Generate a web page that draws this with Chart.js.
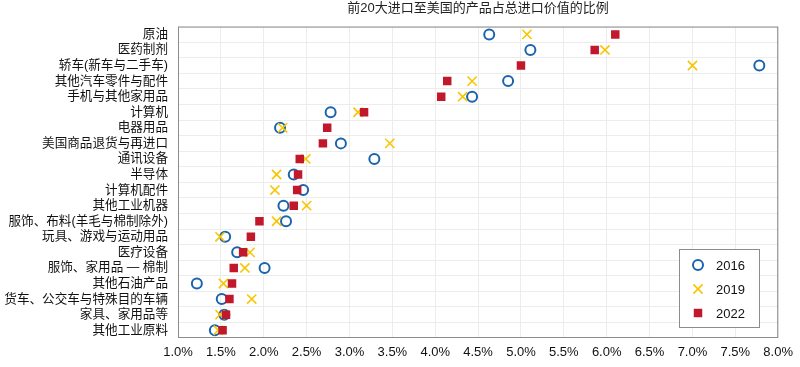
<!DOCTYPE html>
<html>
<head>
<meta charset="utf-8">
<script src="https://cdn.jsdelivr.net/npm/chart.js@4/dist/chart.umd.min.js"></script>
<style>
  html, body { margin: 0; padding: 0; background: #fff; }
  #wrap { width: 800px; height: 367px; }
</style>
</head>
<body>
<div id="wrap"><canvas id="myChart"></canvas></div>
<script>
const categories = [
  "原油", "医药制剂", "轿车(新车与二手车)", "其他汽车零件与配件", "手机与其他家用品",
  "计算机", "电器用品", "美国商品退货与再进口", "通讯设备", "半导体",
  "计算机配件", "其他工业机器", "服饰、布料(羊毛与棉制除外)", "玩具、游戏与运动用品", "医疗设备",
  "服饰、家用品 — 棉制", "其他石油产品", "货车、公交车与特殊目的车辆", "家具、家用品等", "其他工业原料"
];
const share2016 = [4.63, 5.11, 7.78, 4.85, 4.43, 2.78, 2.19, 2.90, 3.29, 2.35,
                   2.46, 2.23, 2.26, 1.55, 1.69, 2.01, 1.22, 1.51, 1.54, 1.43];
const share2019 = [5.07, 5.98, 7.00, 4.43, 4.32, 3.10, 2.22, 3.47, 2.49, 2.15,
                   2.13, 2.50, 2.15, 1.49, 1.84, 1.78, 1.53, 1.86, 1.49, 1.47];
const share2022 = [6.10, 5.86, 5.00, 4.14, 4.07, 3.17, 2.74, 2.69, 2.42, 2.40,
                   2.39, 2.35, 1.95, 1.85, 1.76, 1.65, 1.63, 1.60, 1.56, 1.52];
const years = ["2016", "2019", "2022"];
const xMin = 1, xMax = 8, xStep = 0.5;

const font = "'Liberation Sans', 'Noto Sans CJK SC', sans-serif";

// frame round the plot + legend box in the lower right corner
const boxLegend = {
  id: "boxLegend",
  afterDraw(chart) {
    const ctx = chart.ctx;
    const a = chart.chartArea;
    ctx.save();
    ctx.strokeStyle = "#8c8c8c";
    ctx.lineWidth = 1;
    ctx.strokeRect(a.left + 0.5, a.top + 0.5, a.width - 1, a.height - 1);

    const w = 80, h = 78;
    const x0 = Math.round(a.right - 19 - w), y0 = Math.round(a.bottom - 11 - h);
    ctx.fillStyle = "#fff";
    ctx.fillRect(x0, y0, w, h);
    ctx.strokeStyle = "#8c8c8c";
    ctx.strokeRect(x0 + 0.5, y0 + 0.5, w, h);

    chart.data.datasets.forEach((ds, i) => {
      const cy = y0 + 16 + i * 24;
      ctx.strokeStyle = ds.pointBorderColor;
      ctx.fillStyle = ds.pointBackgroundColor;
      ctx.lineWidth = ds.pointBorderWidth;
      Chart.helpers.drawPoint(ctx, {
        pointStyle: ds.pointStyle,
        radius: ds.pointRadius,
        borderWidth: ds.pointBorderWidth,
        rotation: 0
      }, x0 + 19, cy);
      ctx.fillStyle = "#111";
      ctx.font = "13px " + font;
      ctx.textBaseline = "middle";
      ctx.textAlign = "left";
      ctx.fillText(ds.label, x0 + 37, cy + 1);
    });
    ctx.restore();
  }
};

const ctx = document.getElementById("myChart").getContext("2d");

new Chart(ctx, {
  type: "line",
  data: {
    labels: categories,
    datasets: [
      {
        label: years[0],
        data: share2016,
        showLine: false,
        pointStyle: "circle",
        pointRadius: 5,
        pointHoverRadius: 5,
        pointBorderWidth: 2,
        pointBorderColor: "#1a64ad",
        pointBackgroundColor: "rgba(255,255,255,0)",
        order: 3
      },
      {
        label: years[1],
        data: share2019,
        showLine: false,
        pointStyle: "crossRot",
        pointRadius: 6.5,
        pointHoverRadius: 6.5,
        pointBorderWidth: 1.6,
        pointBorderColor: "#f7c600",
        pointBackgroundColor: "#f7c600",
        order: 2
      },
      {
        label: years[2],
        data: share2022,
        showLine: false,
        pointStyle: "rect",
        pointRadius: 6,
        pointHoverRadius: 6,
        pointBorderWidth: 0,
        pointBorderColor: "#c1182b",
        pointBackgroundColor: "#c1182b",
        order: 1
      }
    ]
  },
  options: {
    indexAxis: "y",
    responsive: true,
    maintainAspectRatio: false,
    animation: false,
    layout: { padding: { top: 1, right: 20, left: 0, bottom: 0 } },
    plugins: {
      legend: { display: false },
      tooltip: { enabled: false },
      title: {
        display: true,
        text: "前20大进口至美国的产品占总进口价值的比例",
        fullSize: false,
        color: "#222",
        font: { family: font, size: 13, weight: "normal", lineHeight: 1.2 },
        padding: { top: 0, bottom: 10 }
      }
    },
    scales: {
      x: {
        type: "linear",
        min: xMin,
        max: xMax,
        ticks: {
          stepSize: xStep,
          color: "#111",
          padding: 7,
          font: { family: font, size: 13 },
          callback: v => v.toFixed(1) + "%"
        },
        grid: { color: "#ececec", drawTicks: false },
        border: { display: false },
        afterFit: s => { s.height = 29; }
      },
      y: {
        type: "category",
        offset: true,
        ticks: {
          color: "#111",
          padding: 10,
          autoSkip: false,
          font: { family: font, size: 12.6 }
        },
        grid: { color: "#ececec", drawTicks: false, offset: true },
        border: { display: false },
        afterFit: s => { s.width = 178; }
      }
    }
  },
  plugins: [boxLegend]
});
</script>
</body>
</html>
